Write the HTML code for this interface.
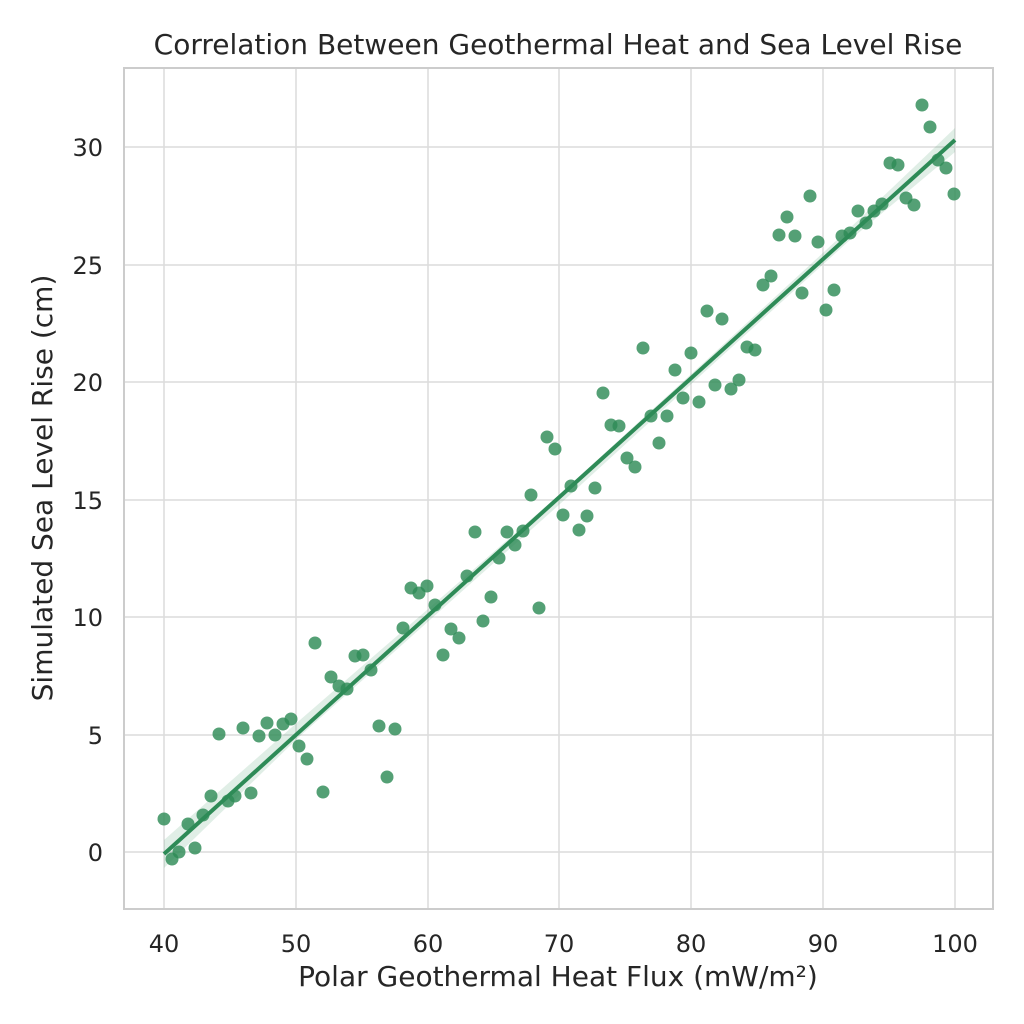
<!DOCTYPE html>
<html><head><meta charset="utf-8"><style>
html,body{margin:0;padding:0;background:#fff;}
svg{display:block;font-family:"DejaVu Sans","Liberation Sans",sans-serif;}
</style></head><body>
<svg width="1024" height="1024" viewBox="0 0 1024 1024">
<rect width="1024" height="1024" fill="#fff"/>
<g stroke="#dcdcdc" stroke-width="1.5">
<line x1="164" y1="68" x2="164" y2="909"/><line x1="296" y1="68" x2="296" y2="909"/>
<line x1="428" y1="68" x2="428" y2="909"/><line x1="559" y1="68" x2="559" y2="909"/>
<line x1="691" y1="68" x2="691" y2="909"/><line x1="823" y1="68" x2="823" y2="909"/>
<line x1="955" y1="68" x2="955" y2="909"/>
<line x1="124" y1="852" x2="993" y2="852"/><line x1="124" y1="735" x2="993" y2="735"/>
<line x1="124" y1="617" x2="993" y2="617"/><line x1="124" y1="500" x2="993" y2="500"/>
<line x1="124" y1="382" x2="993" y2="382"/><line x1="124" y1="265" x2="993" y2="265"/>
<line x1="124" y1="147" x2="993" y2="147"/>
</g>
<rect x="124" y="68" width="869" height="841" fill="none" stroke="#cccccc" stroke-width="2"/>
<polygon points="164,840 300,720 450,590 560,494 700,366 850,228 955,128 955,152 850,240 700,376 560,504 450,602 300,736 164,868" fill="#2e8b57" opacity="0.15"/>
<g fill="#2e8b57" fill-opacity="0.82">
<circle cx="164" cy="819" r="6.5"/><circle cx="172" cy="859" r="6.5"/><circle cx="179" cy="852" r="6.5"/><circle cx="188" cy="824" r="6.5"/><circle cx="195" cy="848" r="6.5"/><circle cx="203" cy="815" r="6.5"/><circle cx="211" cy="796" r="6.5"/><circle cx="219" cy="734" r="6.5"/><circle cx="228" cy="801" r="6.5"/><circle cx="235" cy="796" r="6.5"/><circle cx="243" cy="728" r="6.5"/><circle cx="251" cy="793" r="6.5"/><circle cx="259" cy="736" r="6.5"/><circle cx="267" cy="723" r="6.5"/><circle cx="275" cy="735" r="6.5"/><circle cx="283" cy="724" r="6.5"/><circle cx="291" cy="719" r="6.5"/><circle cx="299" cy="746" r="6.5"/><circle cx="307" cy="759" r="6.5"/><circle cx="315" cy="643" r="6.5"/><circle cx="323" cy="792" r="6.5"/><circle cx="331" cy="677" r="6.5"/><circle cx="339" cy="686" r="6.5"/><circle cx="347" cy="689" r="6.5"/><circle cx="355" cy="656" r="6.5"/><circle cx="363" cy="655" r="6.5"/><circle cx="371" cy="670" r="6.5"/><circle cx="379" cy="726" r="6.5"/><circle cx="387" cy="777" r="6.5"/><circle cx="395" cy="729" r="6.5"/><circle cx="403" cy="628" r="6.5"/><circle cx="411" cy="588" r="6.5"/><circle cx="419" cy="593" r="6.5"/><circle cx="427" cy="586" r="6.5"/><circle cx="435" cy="605" r="6.5"/><circle cx="443" cy="655" r="6.5"/><circle cx="451" cy="629" r="6.5"/><circle cx="459" cy="638" r="6.5"/><circle cx="467" cy="576" r="6.5"/><circle cx="475" cy="532" r="6.5"/><circle cx="483" cy="621" r="6.5"/><circle cx="491" cy="597" r="6.5"/><circle cx="499" cy="558" r="6.5"/><circle cx="507" cy="532" r="6.5"/><circle cx="515" cy="545" r="6.5"/><circle cx="523" cy="531" r="6.5"/><circle cx="531" cy="495" r="6.5"/><circle cx="539" cy="608" r="6.5"/><circle cx="547" cy="437" r="6.5"/><circle cx="555" cy="449" r="6.5"/><circle cx="563" cy="515" r="6.5"/><circle cx="571" cy="486" r="6.5"/><circle cx="579" cy="530" r="6.5"/><circle cx="587" cy="516" r="6.5"/><circle cx="595" cy="488" r="6.5"/><circle cx="603" cy="393" r="6.5"/><circle cx="611" cy="425" r="6.5"/><circle cx="619" cy="426" r="6.5"/><circle cx="627" cy="458" r="6.5"/><circle cx="635" cy="467" r="6.5"/><circle cx="643" cy="348" r="6.5"/><circle cx="651" cy="416" r="6.5"/><circle cx="659" cy="443" r="6.5"/><circle cx="667" cy="416" r="6.5"/><circle cx="675" cy="370" r="6.5"/><circle cx="683" cy="398" r="6.5"/><circle cx="691" cy="353" r="6.5"/><circle cx="699" cy="402" r="6.5"/><circle cx="707" cy="311" r="6.5"/><circle cx="715" cy="385" r="6.5"/><circle cx="722" cy="319" r="6.5"/><circle cx="731" cy="389" r="6.5"/><circle cx="739" cy="380" r="6.5"/><circle cx="747" cy="347" r="6.5"/><circle cx="755" cy="350" r="6.5"/><circle cx="763" cy="285" r="6.5"/><circle cx="771" cy="276" r="6.5"/><circle cx="779" cy="235" r="6.5"/><circle cx="787" cy="217" r="6.5"/><circle cx="795" cy="236" r="6.5"/><circle cx="802" cy="293" r="6.5"/><circle cx="810" cy="196" r="6.5"/><circle cx="818" cy="242" r="6.5"/><circle cx="826" cy="310" r="6.5"/><circle cx="834" cy="290" r="6.5"/><circle cx="842" cy="236" r="6.5"/><circle cx="850" cy="233" r="6.5"/><circle cx="858" cy="211" r="6.5"/><circle cx="866" cy="223" r="6.5"/><circle cx="874" cy="211" r="6.5"/><circle cx="882" cy="204" r="6.5"/><circle cx="890" cy="163" r="6.5"/><circle cx="898" cy="165" r="6.5"/><circle cx="906" cy="198" r="6.5"/><circle cx="914" cy="205" r="6.5"/><circle cx="922" cy="105" r="6.5"/><circle cx="930" cy="127" r="6.5"/><circle cx="938" cy="160" r="6.5"/><circle cx="946" cy="168" r="6.5"/><circle cx="954" cy="194" r="6.5"/>
</g>
<line x1="164" y1="854" x2="955" y2="140" stroke="#2e8b57" stroke-width="4"/>
<g fill="#262626" font-size="24" text-anchor="middle">
<text x="164" y="952">40</text><text x="296" y="952">50</text><text x="428" y="952">60</text><text x="559" y="952">70</text><text x="691" y="952">80</text><text x="823" y="952">90</text><text x="955" y="952">100</text>
</g>
<g fill="#262626" font-size="24" text-anchor="end">
<text x="103" y="861">0</text><text x="103" y="744">5</text><text x="103" y="626">10</text><text x="103" y="509">15</text><text x="103" y="391">20</text><text x="103" y="274">25</text><text x="103" y="156">30</text>
</g>
<text x="558" y="986" text-anchor="middle" font-size="28" fill="#262626">Polar Geothermal Heat Flux (mW/m²)</text>
<text transform="translate(52,488) rotate(-90)" text-anchor="middle" font-size="28" fill="#262626">Simulated Sea Level Rise (cm)</text>
<text x="558" y="54" text-anchor="middle" font-size="28" fill="#262626">Correlation Between Geothermal Heat and Sea Level Rise</text>
</svg>
</body></html>
